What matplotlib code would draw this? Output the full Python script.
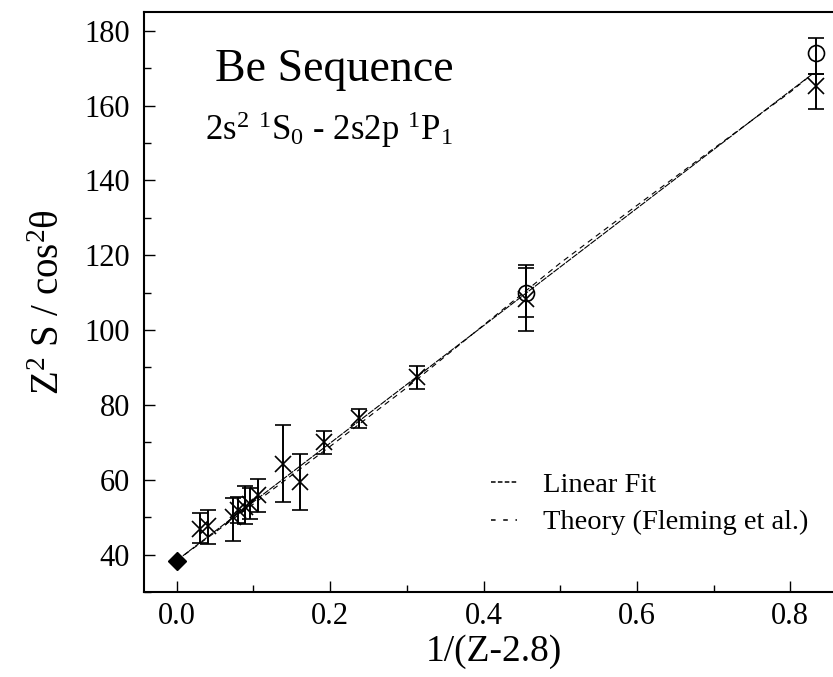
import numpy as np
import matplotlib
matplotlib.use('Agg')
import matplotlib.pyplot as plt
from matplotlib.lines import Line2D
from matplotlib.ticker import MultipleLocator, FormatStrFormatter

plt.rcParams['font.family'] = ['Liberation Serif', 'DejaVu Serif']
plt.rcParams['mathtext.fontset'] = 'custom'
plt.rcParams['mathtext.rm'] = 'Liberation Serif'
plt.rcParams['mathtext.it'] = 'Liberation Serif:italic'

x_exp = [0.030, 0.041, 0.074, 0.080, 0.089, 0.096, 0.106, 0.139, 0.161,
         0.192, 0.238, 0.313, 0.455, 0.833]
y_exp = [46.9, 47.5, 50.0, 51.8, 52.7, 53.5, 55.8, 64.3, 59.4,
         70.0, 76.4, 87.4, 108.3, 165.1]
lo_exp = [43.2, 42.7, 43.6, 48.5, 48.1, 49.5, 51.5, 54.0, 51.8,
          66.9, 73.8, 84.3, 99.8, 159.2]
hi_exp = [51.1, 51.8, 55.2, 55.5, 58.2, 57.8, 60.3, 74.7, 66.9,
          73.1, 78.9, 90.3, 117.4, 168.3]

# other data (circles)
x_circ = [0.455, 0.833]
y_circ = [110.0, 174.0]
lo_circ = [103.4, 168.3]
hi_circ = [116.5, 178.0]

# high-Z limit (diamond)
x_lim = [0.0]
y_lim = [38.4]

# linear fit and theory curves
x_fit = [0.0, 0.828]
y_fit = [38.4, 168.3]
x_th = [0.0, 0.1, 0.2, 0.3, 0.4, 0.5, 0.6, 0.7, 0.8, 0.828]
y_th = [38.4, 53.5, 68.9, 84.6, 101.3, 117.9, 133.3, 148.5, 163.6, 168.3]

fig = plt.figure(figsize=(8.33, 6.77), dpi=100)
ax = fig.add_axes([0.1729, 0.1256, 0.8403, 0.8567])

ax.plot(x_fit, y_fit, color='black', lw=0.8, linestyle=(0, (6, 1)))
ax.plot(x_th, y_th, color='black', lw=0.8, linestyle=(0, (5, 4)))

y_exp_a = np.array(y_exp)
yerr_exp = [y_exp_a - np.array(lo_exp), np.array(hi_exp) - y_exp_a]
ax.errorbar(x_exp, y_exp, yerr=yerr_exp, fmt='x', color='black', ms=11,
            mew=1.2, elinewidth=1.4, capsize=5.5, capthick=1.4)

y_circ_a = np.array(y_circ)
yerr_circ = [y_circ_a - np.array(lo_circ), np.array(hi_circ) - y_circ_a]
ax.errorbar(x_circ, y_circ, yerr=yerr_circ, fmt='o', color='black', mfc='none',
            ms=11.5, mew=1.2, elinewidth=1.4, capsize=5.5, capthick=1.4)

ax.plot(x_lim, y_lim, 'D', color='black', ms=9)

ax.set_xlim(-0.0426, 0.87)
ax.set_ylim(30, 185)
ax.xaxis.set_major_locator(MultipleLocator(0.2))
ax.xaxis.set_minor_locator(MultipleLocator(0.1))
ax.yaxis.set_major_locator(MultipleLocator(20))
ax.yaxis.set_minor_locator(MultipleLocator(10))
ax.xaxis.set_major_formatter(FormatStrFormatter('%.1f'))
ax.tick_params(which='both', direction='in', top=False, right=False,
               labelsize=22, width=1.0)
ax.tick_params(which='major', length=8)
ax.tick_params(axis='x', which='major', pad=7)
ax.tick_params(axis='y', which='major', pad=10)
ax.tick_params(which='minor', length=5)
for s in ax.spines.values():
    s.set_linewidth(1.5)

ax.set_xlabel('1/(Z-2.8)', fontsize=27, labelpad=3)
ax.set_ylabel('Z$^2$ S / cos$^2$θ', fontsize=28, labelpad=12)

ax.text(0.101, 0.90, 'Be Sequence', transform=ax.transAxes, fontsize=33,
        ha='left', va='center')
ax.text(0.087, 0.797, '2s$^2$ $^1$S$_0$ - 2s2p $^1$P$_1$', transform=ax.transAxes,
        fontsize=25, ha='left', va='center')

handles = [Line2D([], [], color='black', lw=1.1, linestyle=(0, (3, 1.5))),
           Line2D([], [], color='black', lw=1.1, linestyle=(0, (3, 5)))]
ax.legend(handles, ['Linear Fit', 'Theory (Fleming et al.)'], loc='upper left',
          bbox_to_anchor=(0.476, 0.232), frameon=False, fontsize=20.5,
          handlelength=0.9, handletextpad=0.9, labelspacing=0.42, borderpad=0)

fig.savefig('out.png', dpi=100)
